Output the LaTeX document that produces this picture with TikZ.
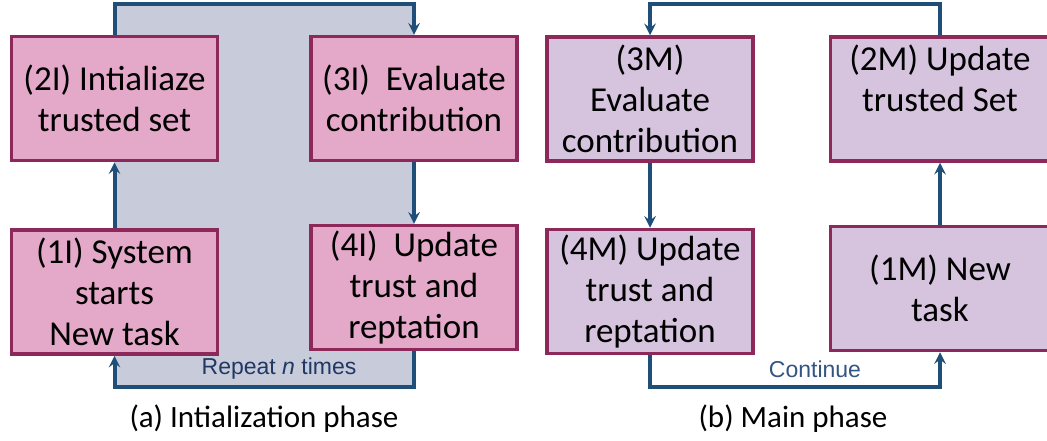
\documentclass[tikz,border=0pt]{standalone}
\usepackage{fontspec}
\setmainfont{Carlito}
\newfontfamily\labelfont{Liberation Sans}
\usetikzlibrary{backgrounds}
\usetikzlibrary{arrows}
\definecolor{boxborder}{RGB}{140,40,90}
\definecolor{initfill}{RGB}{228,168,200}
\definecolor{mainfill}{RGB}{214,196,222}
\definecolor{loopblue}{RGB}{31,78,121}
\definecolor{loopgray}{RGB}{200,204,218}
\definecolor{labelblue}{RGB}{32,56,100}
\definecolor{contblue}{RGB}{50,85,130}

\begin{document}
\begin{tikzpicture}[
            x = 1pt, y = -1pt, % one unit per pixel, y going down
            > = stealth, % arrow head style
            line width = 3.5pt % line style
        ]

        \tikzstyle{phase}=[
            draw = boxborder,
            align = center,
            inner sep = 0pt,
            minimum width = 206pt,
            minimum height = 124pt,
            font = \fontsize{35}{41}\selectfont
        ]
        \tikzstyle{init}=[phase, fill = initfill]
        \tikzstyle{main}=[phase, fill = mainfill]
        \tikzstyle{loop}=[draw = loopblue, line width = 4pt, ->]

        \useasboundingbox (0,0) rectangle (1047,440);

	% initialization phase
        \node[init] (I2) at (114.5,98.5) {(2I) Intialiaze\\trusted set};
        \node[init] (I3) at (414,98.5) {(3I)~~Evaluate\\contribution};
        \node[init] (I1) at (114.5,292) {(1I) System\\starts\\New task};
        \node[init] (I4) at (414,287.5) {(4I)~~Update\\trust and\\reptation};

        \coordinate (topI) at (264,4);
        \coordinate (botI) at (264,387);

        \draw[loop] (I1.north) -- (I2.south);
        \draw[loop] (I3.south) -- (I4.north);
        \draw[loop] (I2.north) |- (topI) -| (I3.north);
        \draw[loop] (I4.south) |- (botI) -| (I1.south);

        \node[font = \labelfont\fontsize{23}{27}\selectfont, text = labelblue] (repeat) at (279,369) {Repeat \textit{n} times};

        % main phase
        \node[main] (M3) at (650,99) {(3M)\\Evaluate\\contribution};
        \node[main, minimum width = 219pt] (M2) at (940,99) {(2M) Update\\trusted Set\\\mbox{}};
        \node[main] (M4) at (650,291.5) {(4M) Update\\trust and\\reptation};
        \node[main, minimum width = 219pt] (M1) at (940,288.5) {(1M) New\\task};

        \coordinate (topM) at (794,4);
        \coordinate (botM) at (794,387);

        \draw[loop] (M3.south) -- (M4.north);
        \draw[loop] (M1.north) -- (M2.south);
        \draw[loop] (M2.north) |- (topM) -| (M3.north);
        \draw[loop] (M4.south) |- (botM) -| (M1.south);

        \node[font = \labelfont\fontsize{23}{27}\selectfont, text = contblue] (cont) at (815,369) {Continue};

        % captions
        \node[font = \fontsize{31}{37}\selectfont] (capA) at (264,419) {(a) Intialization phase};
        \node[font = \fontsize{31}{37}\selectfont] (capB) at (793,419) {(b) Main phase};

        \begin{scope}[on background layer]
   \fill[loopgray] (I2.north |- topI) rectangle (I4.south |- botI);
  \end{scope}

  \end{tikzpicture}
\end{document}
